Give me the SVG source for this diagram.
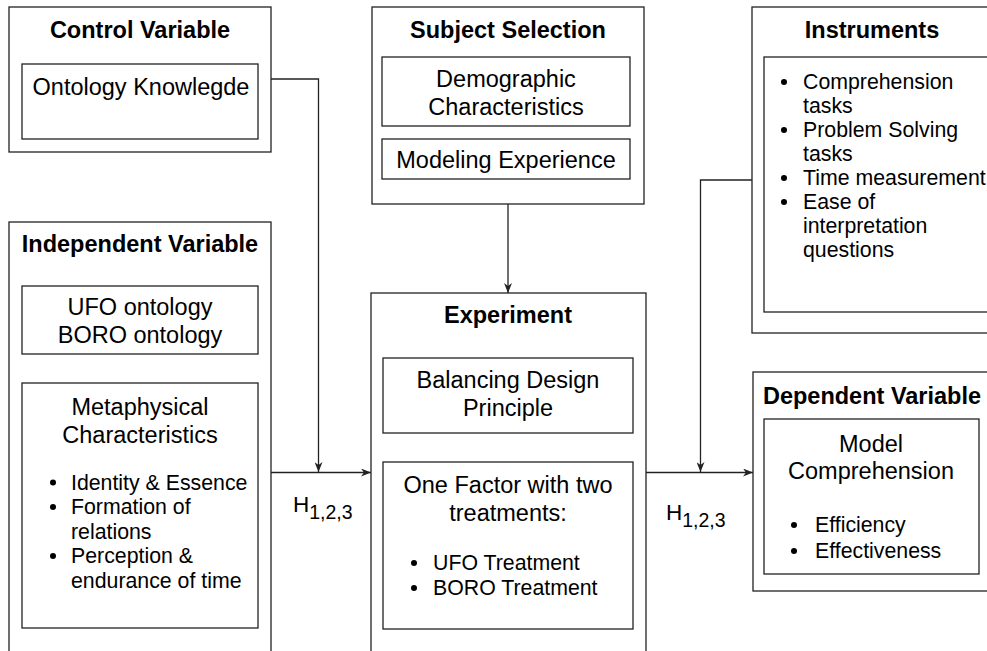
<svg xmlns="http://www.w3.org/2000/svg" width="987" height="651" viewBox="0 0 987 651">
<style>
.box{fill:#fff;stroke:#222;stroke-width:1.3}
.t{font-family:"Liberation Sans",Arial,sans-serif;font-size:23.5px;fill:#000}
.c{text-anchor:middle}
.b{font-weight:bold}
.li{font-family:"Liberation Sans",Arial,sans-serif;font-size:21.3px;fill:#000}
.h{font-family:"Liberation Sans",Arial,sans-serif;font-size:22.5px;fill:#000}
.sub{font-size:19.5px}
.dot{fill:#000}
.con{fill:none;stroke:#222;stroke-width:1.3}
</style>
<defs>
<marker id="arr" viewBox="0 0 10 8" refX="10" refY="4" markerWidth="10" markerHeight="8" markerUnits="userSpaceOnUse" orient="auto">
<path d="M0,0 L10,4 L0,8 L3,4 Z" fill="#222"/>
</marker>
</defs>
<rect width="987" height="651" fill="#fff"/>

<g id="control-variable">
<rect class="box" x="9" y="7" width="262" height="145"/>
<text class="t c b" x="140" y="38">Control Variable</text>
<rect class="box" x="22" y="64" width="236" height="75"/>
<text class="t c" x="141" y="95">Ontology Knowlegde</text>
</g>

<g id="subject-selection">
<rect class="box" x="372" y="7" width="272" height="197"/>
<text class="t c b" x="508" y="38">Subject Selection</text>
<rect class="box" x="382" y="57" width="248" height="69"/>
<text class="t c" x="506" y="87">Demographic</text>
<text class="t c" x="506" y="115">Characteristics</text>
<rect class="box" x="382" y="139" width="248" height="40"/>
<text class="t c" x="506" y="168">Modeling Experience</text>
</g>

<g id="instruments">
<rect class="box" x="752" y="7" width="240" height="326"/>
<text class="t c b" x="872" y="38">Instruments</text>
<rect class="box" x="764" y="57" width="224" height="255"/>
<circle class="dot" cx="784" cy="82" r="3"/>
<text class="li" x="803" y="89">Comprehension</text>
<text class="li" x="803" y="113">tasks</text>
<circle class="dot" cx="784" cy="130" r="3"/>
<text class="li" x="803" y="137">Problem Solving</text>
<text class="li" x="803" y="161">tasks</text>
<circle class="dot" cx="784" cy="178" r="3"/>
<text class="li" x="803" y="185">Time measurement</text>
<circle class="dot" cx="784" cy="202" r="3"/>
<text class="li" x="803" y="209">Ease of</text>
<text class="li" x="803" y="233">interpretation</text>
<text class="li" x="803" y="257">questions</text>
</g>

<g id="independent-variable">
<rect class="box" x="9" y="222" width="262" height="440"/>
<text class="t c b" x="140" y="252">Independent Variable</text>
<rect class="box" x="22" y="286" width="236" height="68"/>
<text class="t c" x="140" y="315">UFO ontology</text>
<text class="t c" x="140" y="343">BORO ontology</text>
<rect class="box" x="22" y="383" width="236" height="245"/>
<text class="t c" x="140" y="415">Metaphysical</text>
<text class="t c" x="140" y="443">Characteristics</text>
<circle class="dot" cx="53" cy="482.5" r="3"/>
<text class="li" x="71" y="489.5">Identity &amp; Essence</text>
<circle class="dot" cx="53" cy="507" r="3"/>
<text class="li" x="71" y="514">Formation of</text>
<text class="li" x="71" y="538.5">relations</text>
<circle class="dot" cx="53" cy="556" r="3"/>
<text class="li" x="71" y="563">Perception &amp;</text>
<text class="li" x="71" y="587.5">endurance of time</text>
</g>

<g id="experiment">
<rect class="box" x="371" y="293" width="275" height="370"/>
<text class="t c b" x="508" y="323">Experiment</text>
<rect class="box" x="383" y="358" width="250" height="75"/>
<text class="t c" x="508" y="388">Balancing Design</text>
<text class="t c" x="508" y="416">Principle</text>
<rect class="box" x="383" y="462" width="250" height="167"/>
<text class="t c" x="508" y="493">One Factor with two</text>
<text class="t c" x="508" y="521">treatments:</text>
<circle class="dot" cx="414" cy="563" r="3"/>
<text class="li" x="433" y="570">UFO Treatment</text>
<circle class="dot" cx="414" cy="588" r="3"/>
<text class="li" x="433" y="595">BORO Treatment</text>
</g>

<g id="dependent-variable">
<rect class="box" x="753" y="372" width="240" height="219"/>
<text class="t c b" x="872" y="404">Dependent Variable</text>
<rect class="box" x="764" y="419" width="215" height="155"/>
<text class="t c" x="871" y="452">Model</text>
<text class="t c" x="871" y="479">Comprehension</text>
<circle class="dot" cx="794" cy="525" r="3"/>
<text class="li" x="815" y="532">Efficiency</text>
<circle class="dot" cx="794" cy="551" r="3"/>
<text class="li" x="815" y="558">Effectiveness</text>
</g>

<g id="connectors">
<path class="con" d="M271,79 H318.5 V472" marker-end="url(#arr)"/>
<path class="con" d="M271,472.5 H371" marker-end="url(#arr)"/>
<path class="con" d="M508,204 V293" marker-end="url(#arr)"/>
<path class="con" d="M646,472.5 H753" marker-end="url(#arr)"/>
<path class="con" d="M752,180 H700.5 V472" marker-end="url(#arr)"/>
<text class="h" x="293" y="512">H<tspan class="sub" dy="6.5">1,2,3</tspan></text>
<text class="h" x="666" y="520">H<tspan class="sub" dy="6.5">1,2,3</tspan></text>
</g>
</svg>
